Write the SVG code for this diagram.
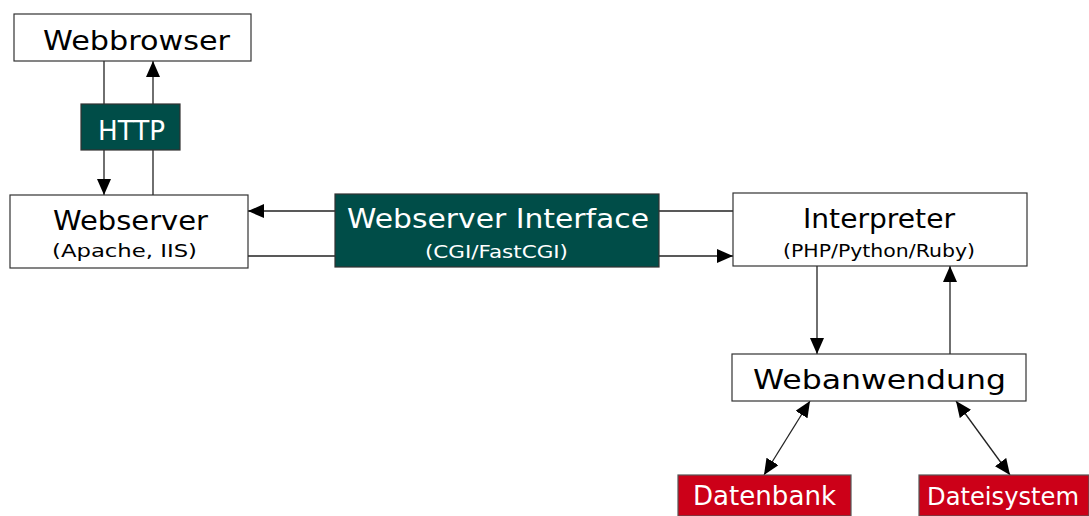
<svg xmlns="http://www.w3.org/2000/svg" width="1089" height="516" viewBox="0 0 1089 516">
<defs>
<marker id="ah" viewBox="0 0 16 14" refX="16" refY="7" markerWidth="16" markerHeight="14" markerUnits="userSpaceOnUse" orient="auto-start-reverse">
<path d="M0,0 L16,7 L0,14 Z" fill="#000"/>
</marker>
<style>
.box{fill:#fff;stroke:#333;stroke-width:1.2}
.teal{fill:#004d48;stroke:#333;stroke-width:1.2}
.red{fill:#cc0018;stroke:#555;stroke-width:1.2}
.t{font-family:"DejaVu Sans",sans-serif;text-anchor:middle}
.big{font-size:26px}
.small{font-size:17px}
.dark{fill:#000}
.light{fill:#fff}
.c{stroke:#222;stroke-width:1.3;fill:none}
</style>
</defs>
<rect width="1089" height="516" fill="#fff"/>
<g id="connectors">
<line class="c" x1="104" y1="61" x2="104" y2="104"/>
<line class="c" x1="104" y1="150" x2="104" y2="195" marker-end="url(#ah)"/>
<line class="c" x1="153" y1="195" x2="153" y2="150"/>
<line class="c" x1="153" y1="104" x2="153" y2="61" marker-end="url(#ah)"/>
<line class="c" x1="335" y1="211" x2="248" y2="211" marker-end="url(#ah)"/>
<line class="c" x1="248" y1="256" x2="335" y2="256"/>
<line class="c" x1="659" y1="211" x2="733" y2="211"/>
<line class="c" x1="659" y1="256" x2="733" y2="256" marker-end="url(#ah)"/>
<line class="c" x1="817" y1="266" x2="817" y2="354" marker-end="url(#ah)"/>
<line class="c" x1="950" y1="354" x2="950" y2="266" marker-end="url(#ah)"/>
<line class="c" x1="810" y1="401" x2="764" y2="475" marker-start="url(#ah)" marker-end="url(#ah)"/>
<line class="c" x1="956" y1="401" x2="1010" y2="475" marker-start="url(#ah)" marker-end="url(#ah)"/>
</g>
<g id="webbrowser">
<rect class="box" x="14" y="14" width="237" height="47"/>
<text class="t big dark" x="136.5" y="50" textLength="187" lengthAdjust="spacingAndGlyphs">Webbrowser</text>
</g>
<g id="http">
<rect class="teal" x="81" y="104" width="99" height="46"/>
<text class="t big light" x="131.5" y="140" textLength="67" lengthAdjust="spacingAndGlyphs">HTTP</text>
</g>
<g id="webserver">
<rect class="box" x="10" y="195" width="238" height="73"/>
<text class="t big dark" x="130.5" y="230" textLength="155" lengthAdjust="spacingAndGlyphs">Webserver</text>
<text class="t small dark" x="124.5" y="257" textLength="145" lengthAdjust="spacingAndGlyphs">(Apache, IIS)</text>
</g>
<g id="interface">
<rect class="teal" x="335" y="194" width="324" height="73"/>
<text class="t big light" x="498" y="228" textLength="302" lengthAdjust="spacingAndGlyphs">Webserver Interface</text>
<text class="t small light" x="496.5" y="258" textLength="143" lengthAdjust="spacingAndGlyphs">(CGI/FastCGI)</text>
</g>
<g id="interpreter">
<rect class="box" x="733" y="193" width="294" height="73"/>
<text class="t big dark" x="879" y="228" textLength="152" lengthAdjust="spacingAndGlyphs">Interpreter</text>
<text class="t small dark" x="879" y="257" textLength="192" lengthAdjust="spacingAndGlyphs">(PHP/Python/Ruby)</text>
</g>
<g id="webanwendung">
<rect class="box" x="732" y="354" width="294" height="47"/>
<text class="t big dark" x="879.5" y="389" textLength="253" lengthAdjust="spacingAndGlyphs">Webanwendung</text>
</g>
<g id="datenbank">
<rect class="red" x="678" y="475" width="173" height="41"/>
<text class="t big light" x="764.5" y="505" textLength="143" lengthAdjust="spacingAndGlyphs">Datenbank</text>
</g>
<g id="dateisystem">
<rect class="red" x="919" y="475" width="170" height="41"/>
<text class="t light" style="font-size:24px" x="1003" y="505" textLength="152" lengthAdjust="spacingAndGlyphs">Dateisystem</text>
</g>
</svg>
